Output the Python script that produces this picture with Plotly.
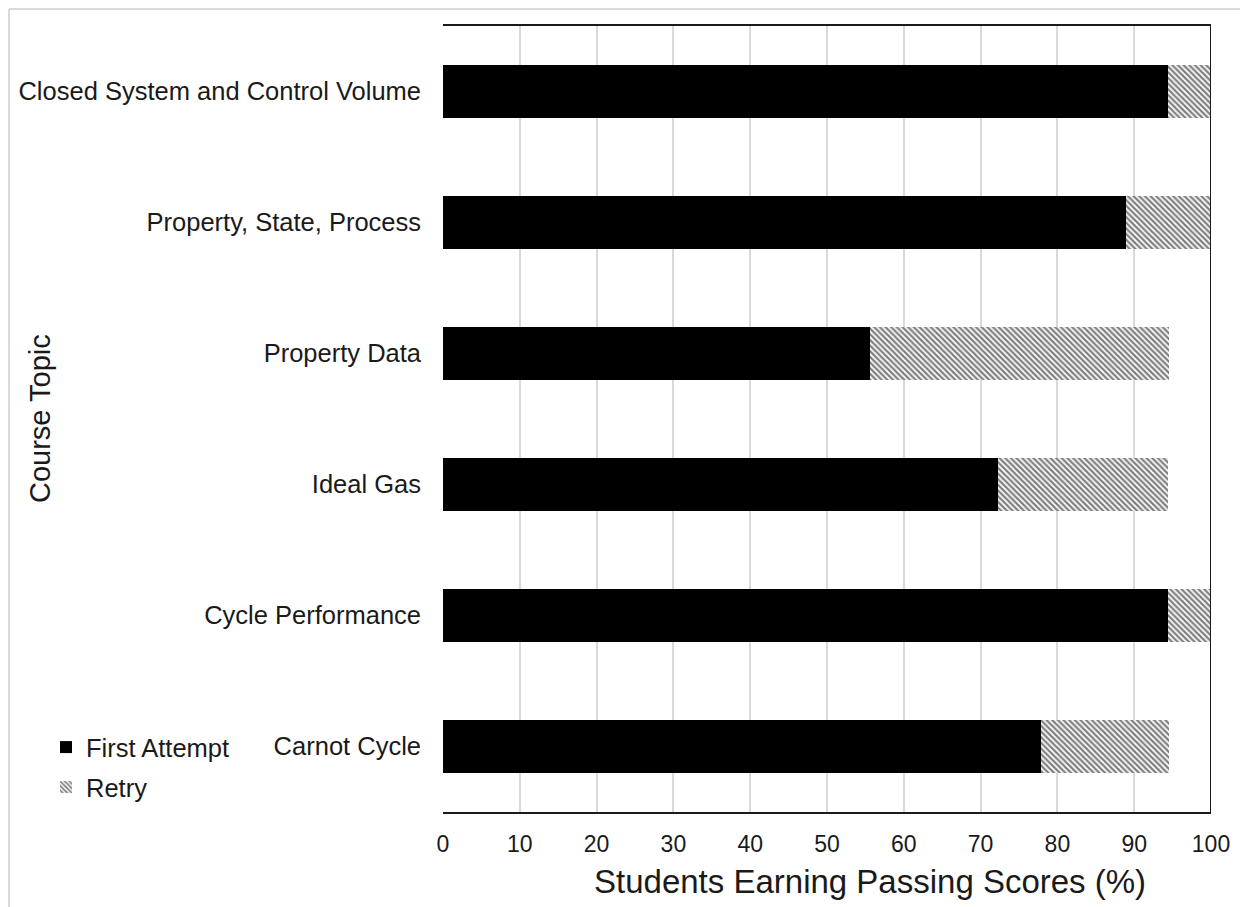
import plotly.graph_objects as go

categories = ["Closed System and Control Volume", "Property, State, Process",
              "Property Data", "Ideal Gas", "Cycle Performance", "Carnot Cycle"]
first_attempt = [94.4, 88.9, 55.6, 72.2, 94.4, 77.8]
retry = [5.6, 11.1, 38.9, 22.2, 5.6, 16.7]
x_ticks = [0, 10, 20, 30, 40, 50, 60, 70, 80, 90, 100]

FONT = "Liberation Sans, Arial, sans-serif"
OFF = 8  # page body margin
W, H = 1240, 899
# plot area in screenshot pixels
SL, SR, ST, SB = 443, 1211, 26, 812
L, T = SL - OFF, ST - OFF
R = W - (SR - OFF)
B = H - (SB - OFF)
pw, ph = W - L - R, H - T - B

def px_x(p):
    return (p - SL) / pw

def px_y(p):
    return (SB - p) / ph

fig = go.Figure()
fig.add_trace(go.Bar(
    y=categories, x=first_attempt, orientation="h", name="First Attempt",
    marker=dict(color="black", line=dict(width=0)), legend="legend",
))
fig.add_trace(go.Bar(
    y=categories, x=retry, orientation="h", name="Retry",
    marker=dict(color="white", line=dict(width=0),
                pattern=dict(shape="\\", fgcolor="black", bgcolor="white",
                             size=4, solidity=0.55)),
    legend="legend2",
))

fig.update_layout(
    width=W, height=H, barmode="stack", bargap=0.6,
    margin=dict(l=L, r=R, t=T, b=B, autoexpand=False),
    paper_bgcolor="white", plot_bgcolor="white",
    font=dict(family=FONT, color="#1a1a1a", size=23),
    xaxis=dict(
        range=[0, 100], tickvals=x_ticks, ticktext=[str(v) for v in x_ticks],
        showgrid=True, gridcolor="#d9d9d9", gridwidth=2,
        showline=True, mirror=True, linecolor="#1a1a1a", linewidth=2,
        zeroline=False, ticks="", tickfont=dict(size=23), automargin=False,
        ticklabelstandoff=10,
    ),
    yaxis=dict(
        categoryorder="array", categoryarray=categories, autorange="reversed",
        showgrid=False, showline=False, zeroline=False, ticks="",
        tickfont=dict(size=25.5), ticklabelstandoff=21, automargin=False,
    ),
    legend=dict(x=px_x(46), y=px_y(724), xanchor="left", yanchor="top",
                font=dict(size=25.5), itemwidth=30, bgcolor="rgba(0,0,0,0)"),
    legend2=dict(x=px_x(46), y=px_y(764), xanchor="left", yanchor="top",
                 font=dict(size=25.5), itemwidth=30, bgcolor="rgba(0,0,0,0)"),
    showlegend=True,
)

# axis titles
fig.add_annotation(text="Course Topic", xref="paper", yref="paper",
                   x=px_x(40), y=0.5, textangle=-90, showarrow=False,
                   font=dict(size=29, color="#1a1a1a"),
                   xanchor="center", yanchor="middle")
fig.add_annotation(text="Students Earning Passing Scores (%)", xref="paper", yref="paper",
                   x=px_x(870), y=px_y(881), showarrow=False,
                   font=dict(size=33, color="#1a1a1a"),
                   xanchor="center", yanchor="middle")

# right border of plot area
fig.add_shape(type="line", xref="x", yref="paper", x0=100, x1=100, y0=0, y1=1,
              line=dict(color="#1a1a1a", width=2))
# outer chart frame (top and left)
fig.add_shape(type="line", xref="paper", yref="paper",
              x0=px_x(9), x1=px_x(1260), y0=px_y(9), y1=px_y(9),
              line=dict(color="#d9d9d9", width=2))
fig.add_shape(type="line", xref="paper", yref="paper",
              x0=px_x(9), x1=px_x(9), y0=px_y(9), y1=px_y(920),
              line=dict(color="#d9d9d9", width=2))

fig.write_html("out.html")
